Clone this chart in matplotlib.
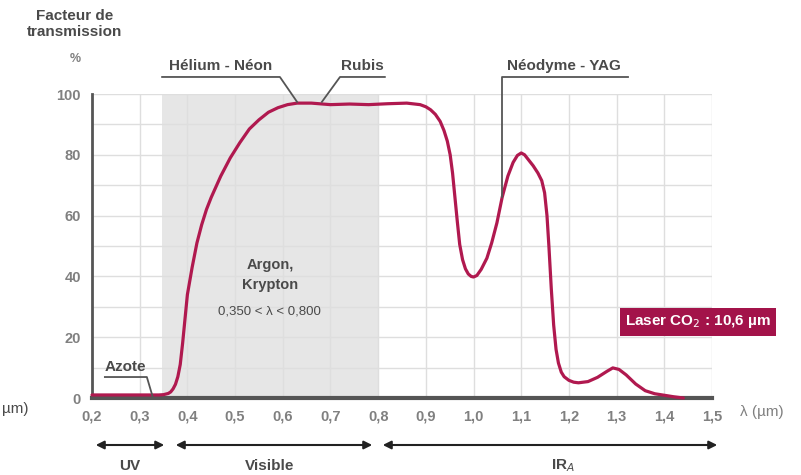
import numpy as np
import matplotlib as mpl
import matplotlib.pyplot as plt

mpl.rcParams['font.family'] = ['Liberation Sans Narrow', 'Liberation Sans', 'DejaVu Sans']

# transmission curve (lambda in um, % transmission)
wavelength = [0.20, 0.30, 0.34, 0.35, 0.36, 0.365, 0.37, 0.375, 0.38, 0.385, 0.39, 0.395,
              0.40, 0.41, 0.42, 0.43, 0.44, 0.45, 0.47, 0.49, 0.51, 0.53, 0.55, 0.57,
              0.59, 0.61, 0.63, 0.66, 0.70, 0.74, 0.78, 0.82, 0.86, 0.888, 0.90,
              0.91, 0.92, 0.93, 0.938, 0.945, 0.951, 0.956, 0.961, 0.966, 0.971,
              0.977, 0.983, 0.989, 0.995, 1.0, 1.007, 1.016, 1.028, 1.038, 1.049,
              1.06, 1.072, 1.083, 1.092, 1.10, 1.107, 1.116, 1.125, 1.135, 1.143,
              1.149, 1.154, 1.158, 1.163, 1.168, 1.173, 1.178, 1.184, 1.19, 1.20,
              1.21, 1.22, 1.24, 1.26, 1.28, 1.292, 1.305, 1.32, 1.34, 1.36, 1.38,
              1.40, 1.42, 1.44]
transmission = [1.0, 1.0, 1.0, 1.1, 1.5, 2.0, 3.0, 4.5, 7, 11, 18, 26,
                34, 43, 51, 57, 62, 66, 73, 79, 84, 88.5, 91.5, 94,
                95.5, 96.5, 97, 97, 96.5, 96.7, 96.5, 96.8, 97, 96.5, 95.8,
                94.8, 93.3, 91, 88, 84.5, 80, 74, 66, 58, 50.5,
                45.5, 42.5, 40.8, 40.0, 39.8, 40.3, 42.3, 46,
                51, 57.6, 66, 73, 77.5, 79.8, 80.6, 80, 78.2, 76.4, 74, 71.5,
                67.5, 60, 50, 36, 24, 16, 11.5, 8.5, 7, 5.8,
                5.2, 5, 5.4, 6.8, 8.8, 9.9, 9.4, 7.6, 4.6, 2.4, 1.4,
                0.9, 0.4, 0]

xticks = [0.2, 0.3, 0.4, 0.5, 0.6, 0.7, 0.8, 0.9, 1.0, 1.1, 1.2, 1.3, 1.4, 1.5]
yticks = [0, 20, 40, 60, 80, 100]
visible_band = (0.347, 0.8)

red = '#b0194f'
dark = '#4a4a4a'
grey = '#808080'

fig = plt.figure(figsize=(8.01, 4.75), dpi=100)
ax = fig.add_axes([92/801, 77/475, 620/801, 304/475])

ax.axvspan(visible_band[0], visible_band[1], color='#e6e6e6', lw=0, zorder=0)
for y in range(10, 101, 10):
    ax.axhline(y, color='#dedede', lw=1, zorder=1)
for x in xticks[1:]:
    ax.axvline(x, color='#dedede', lw=1, zorder=1)

ax.plot(wavelength, transmission, color=red, lw=2.3, zorder=6, solid_capstyle='round',
        solid_joinstyle='round', clip_on=False)

ax.set_xlim(0.2, 1.5)
ax.set_ylim(0, 100)
ax.set_xticks(xticks)
ax.set_xticklabels(['{:.1f}'.format(v).replace('.', ',') for v in xticks])
ax.set_yticks(yticks)
ax.tick_params(length=0, colors=grey, labelsize=10.5, pad=8)
for lab in ax.get_xticklabels() + ax.get_yticklabels():
    lab.set_fontweight('bold')
for s in ['top', 'right']:
    ax.spines[s].set_visible(False)
ax.spines['left'].set_color('#555555')
ax.spines['left'].set_linewidth(2)
ax.spines['bottom'].set_color('#555555')
ax.spines['bottom'].set_linewidth(3)
ax.spines['left'].set_zorder(5)
ax.spines['bottom'].set_zorder(5)

lab_kw = dict(color=dark, fontsize=11, fontweight='bold', ha='center', va='center')
line_kw = dict(color='#555555', lw=1.3, clip_on=False, zorder=7)

# Helium - Neon
ax.text(0.47, 109.2, 'Hélium - Néon', **lab_kw)
ax.plot([0.347, 0.594, 0.630], [105.6, 105.6, 97.4], **line_kw)
# Rubis
ax.text(0.767, 109.2, 'Rubis', **lab_kw)
ax.plot([0.814, 0.72, 0.682], [105.6, 105.6, 97.4], **line_kw)
# Neodyme - YAG
ax.text(1.19, 109.2, 'Néodyme - YAG', **lab_kw)
ax.plot([1.324, 1.06, 1.06], [105.6, 105.6, 66], **line_kw)
# Azote
ax.text(0.269, 10.2, 'Azote', **lab_kw)
ax.plot([0.227, 0.315, 0.328], [6.9, 6.9, 0], **line_kw)

ax.text(0.573, 43.7, 'Argon,', color=dark, fontsize=10.5, fontweight='bold', ha='center', va='center')
ax.text(0.573, 37.2, 'Krypton', color=dark, fontsize=10.5, fontweight='bold', ha='center', va='center')
ax.text(0.573, 28.5, '0,350 < λ < 0,800', color=dark, fontsize=9.5, ha='center', va='center')

fig.text(698/801, 1 - 322/475, 'Laser CO$_2$ : 10,6 µm', color='white', fontsize=11,
         fontweight='bold', ha='center', va='center',
         bbox=dict(boxstyle='square,pad=0.35', fc='#a3134a', ec='none'))

# axis titles
fig.text(75/801, 1 - 16/475, 'Facteur de', color=dark, fontsize=11, fontweight='bold', ha='center', va='center')
fig.text(75/801, 1 - 32/475, 'transmission', color=dark, fontsize=11, fontweight='bold', ha='center', va='center')
fig.text(75/801, 1 - 59/475, '%', color=grey, fontsize=9, fontweight='bold', ha='center', va='center')
fig.text(740/801, 1 - 412/475, 'λ (µm)', color=grey, fontsize=11, ha='left', va='center')
fig.text(2/801, 1 - 409/475, 'µm)', color=dark, fontsize=11, ha='left', va='center')

# spectral domain arrows under the axis
arrow_y = 1 - 445/475
domains = [('UV', 93, 167, 130), ('Visible', 173, 375, 270), ('IR$_A$', 380, 720, 563)]
for name, x0, x1, xt in domains:
    fig.patches.append(mpl.patches.FancyArrowPatch((x0/801, arrow_y), (x1/801, arrow_y),
                       transform=fig.transFigure, arrowstyle='<|-|>',
                       mutation_scale=12, color='#222222', lw=1.5))
    fig.text(xt/801, 1 - 466/475, name, color=dark, fontsize=11, fontweight='bold', ha='center', va='center')

fig.savefig('out.png', dpi=100)
